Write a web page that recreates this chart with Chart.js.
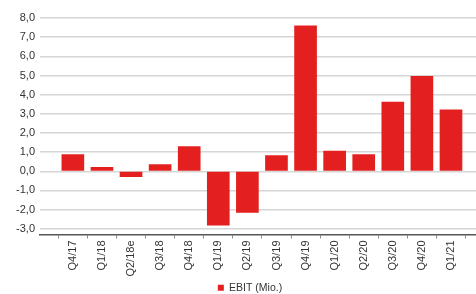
<!DOCTYPE html>
<html>
<head>
<meta charset="utf-8">
<script src="https://cdn.jsdelivr.net/npm/chart.js@4"></script>
<style>
  html, body { margin: 0; padding: 0; background: #fff; }
  #wrap { width: 476px; height: 294px; }
</style>
</head>
<body>
<div id="wrap"><canvas id="myChart"></canvas></div>
<script>
// quarters and EBIT values
const quartale = ['Q4/17', 'Q1/18', 'Q2/18e', 'Q3/18', 'Q4/18', 'Q1/19', 'Q2/19', 'Q3/19',
                  'Q4/19', 'Q1/20', 'Q2/20', 'Q3/20', 'Q4/20', 'Q1/21'];
const ebit = [0.87, 0.21, -0.28, 0.35, 1.29, -2.81, -2.15, 0.82, 7.59, 1.05, 0.87, 3.61, 4.96, 3.21];
const yTicks = [-3, -2, -1, 0, 1, 2, 3, 4, 5, 6, 7, 8];

const rot = '#e3201f';
const schrift = { family: 'Liberation Sans, Arial, sans-serif', size: 11 };

// legend sits a bit right of the centre and close to the bottom edge in the original
const legendeVerschieben = {
    id: 'legendeVerschieben',
    afterLayout(chart) {
        chart.legend.left += 12;
        chart.legend.right += 12;
        chart.legend.top += 1;
        chart.legend.bottom += 1;
    }
};

var ctx = document.getElementById('myChart').getContext('2d');

var myChart = new Chart(ctx, {
    type: 'bar',
    data: {
        datasets: [{
            label: 'EBIT (Mio.)',
            data: ebit.map((v, i) => ({ x: i, y: v })),
            backgroundColor: rot,
            borderWidth: 0,
            barThickness: 22
        }]
    },
    options: {
        responsive: true,
        maintainAspectRatio: false,
        animation: false,
        layout: { padding: { top: 18, right: 0, left: 0, bottom: -8 } },
        plugins: {
            tooltip: { enabled: false },
            legend: {
                position: 'bottom',
                labels: {
                    boxWidth: 6,
                    boxHeight: 6,
                    padding: 2,
                    color: '#333',
                    font: { family: schrift.family, size: 10.5 }
                }
            }
        },
        scales: {
            x: {
                type: 'linear',
                offset: false,
                min: -1.13,
                max: 13.86,
                afterBuildTicks: axis => {
                    axis.ticks = quartale.map((_, i) => ({ value: i }));
                },
                afterFit: axis => { axis.height = 45; },
                grid: {
                    drawOnChartArea: false,
                    drawTicks: true,
                    tickLength: 4,
                    color: '#888'
                },
                border: { display: true, color: '#555', width: 1.5 },
                ticks: {
                    autoSkip: false,
                    maxRotation: 90,
                    minRotation: 90,
                    padding: 2,
                    color: '#333',
                    font: schrift,
                    callback: v => quartale[v] ?? ''
                }
            },
            y: {
                min: -3.3,
                max: 8,
                afterBuildTicks: axis => {
                    axis.ticks = yTicks.map(v => ({ value: v }));
                },
                afterFit: axis => { axis.width = 40; },
                grid: {
                    color: '#d6d6d6',
                    lineWidth: 1.5,
                    drawTicks: false
                },
                border: { display: false },
                ticks: {
                    padding: 5,
                    color: '#333',
                    font: schrift,
                    callback: v => v.toFixed(1).replace('.', ',')
                }
            }
        }
    },
    plugins: [legendeVerschieben]
});
</script>
</body>
</html>
